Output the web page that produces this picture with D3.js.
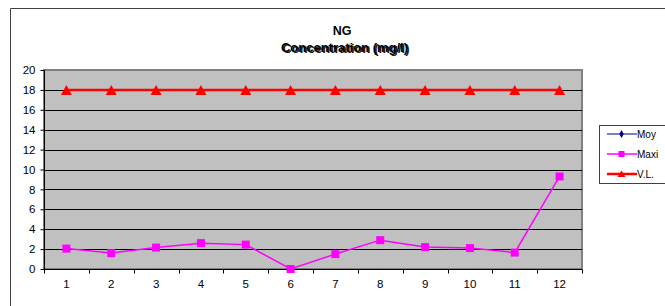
<!DOCTYPE html>
<html><head><meta charset="utf-8">
<script src="https://cdn.jsdelivr.net/npm/d3@7"></script>
<style>body{margin:0;background:#fff}svg{display:block}</style>
</head><body>
<script>
const categories = ["1","2","3","4","5","6","7","8","9","10","11","12"];
const moy = [null,null,null,null,null,null,null,null,null,null,null,null];
const maxi = [2.05, 1.6, 2.15, 2.6, 2.45, 0, 1.5, 2.9, 2.2, 2.1, 1.65, 9.3];
const vl = [18,18,18,18,18,18,18,18,18,18,18,18];
const yTicks = [0,2,4,6,8,10,12,14,16,18,20];
const seriesNames = ["Moy","Maxi","V.L."];

(function(){
const W = 665, H = 306;
const svg = d3.select("body").append("svg").attr("width", W).attr("height", H);
const font = "Liberation Sans, Arial, sans-serif";

// outer frame
svg.append("path").attr("d", `M10.5,${H+2} L10.5,8.5 L${W+2},8.5`).attr("fill","none").attr("stroke","#404040");

const pLeft = 44, pRight = 582, pTop = 70, pBottom = 269;
const x = d3.scaleBand().domain(categories).range([pLeft, pRight]);
const y = d3.scaleLinear().domain([0, 20]).range([pBottom, pTop]);

svg.append("rect").attr("x", pLeft).attr("y", pTop).attr("width", pRight-pLeft).attr("height", pBottom-pTop)
  .attr("fill", "#c0c0c0").attr("stroke", "#808080").attr("stroke-width", 2);

// gridlines
svg.append("g").selectAll("line").data(yTicks.filter(d => d > 0 && d < 20)).join("line")
  .attr("x1", pLeft).attr("x2", pRight)
  .attr("y1", d => Math.round(y(d)) + 0.5).attr("y2", d => Math.round(y(d)) + 0.5)
  .attr("stroke", "#000").attr("stroke-width", 1);

// y axis
const yAxis = svg.append("g").attr("transform", `translate(${pLeft + 0.5},0)`)
  .call(d3.axisLeft(y).tickValues(yTicks).tickSize(4).tickPadding(5));
yAxis.select(".domain").attr("stroke", "#000").attr("d", `M0,${pTop}V${pBottom}`);
yAxis.selectAll("text").attr("font-family", font).attr("font-size", 11.5).attr("fill", "#000");
yAxis.selectAll("line").attr("stroke", "#000");

// x axis
const xg = svg.append("g").attr("transform", `translate(0,${pBottom + 0.5})`);
xg.append("line").attr("x1", pLeft).attr("x2", pRight).attr("stroke", "#000");
const boundaries = categories.map((c) => x(c)).concat([pRight]);
xg.selectAll("line.t").data(boundaries).join("line").attr("class","t")
  .attr("x1", d => Math.round(d) + 0.5).attr("x2", d => Math.round(d) + 0.5)
  .attr("y1", 0).attr("y2", 4).attr("stroke", "#000");
xg.selectAll("text").data(categories).join("text")
  .attr("x", d => x(d) + x.bandwidth()/2).attr("y", 18)
  .attr("text-anchor", "middle").attr("font-family", font).attr("font-size", 11.5).text(d => d);

const cx = c => x(c) + x.bandwidth()/2;
const line = d3.line().defined(d => d[1] != null).x(d => cx(d[0])).y(d => y(d[1]));

// Moy
const moyData = categories.map((c,i) => [c, moy[i]]);
svg.append("path").attr("d", line(moyData)).attr("fill","none").attr("stroke","#000080").attr("stroke-width",1);

// Maxi
const maxiData = categories.map((c,i) => [c, maxi[i]]);
svg.append("path").attr("d", line(maxiData)).attr("fill","none").attr("stroke","#ff00ff").attr("stroke-width",1.5);
svg.append("g").selectAll("rect").data(maxiData).join("rect")
  .attr("x", d => cx(d[0]) - 4).attr("y", d => y(d[1]) - 4).attr("width", 8).attr("height", 8).attr("fill", "#ff00ff");

// V.L.
const vlData = categories.map((c,i) => [c, vl[i]]);
svg.append("path").attr("d", line(vlData)).attr("fill","none").attr("stroke","#ff0000").attr("stroke-width",2.5);
const triPath = "M0,-5L5.5,5L-5.5,5Z";
svg.append("g").selectAll("path").data(vlData).join("path")
  .attr("transform", d => `translate(${cx(d[0])},${y(d[1])})`).attr("d", triPath).attr("fill", "#ff0000");

// title
svg.append("text").attr("x", 342).attr("y", 35).attr("text-anchor","middle")
  .attr("font-family", font).attr("font-size", 12.5).attr("font-weight","bold").text("NG");
svg.append("text").attr("x", 346).attr("y", 53).attr("text-anchor","middle")
  .attr("font-family", font).attr("font-size", 13).attr("font-weight","bold").attr("fill","#222").text("Concentration (mg/l)");
svg.append("text").attr("x", 344.5).attr("y", 52).attr("text-anchor","middle")
  .attr("font-family", font).attr("font-size", 13).attr("font-weight","bold").text("Concentration (mg/l)");

// legend
const lg = svg.append("g");
lg.append("rect").attr("x", 599.5).attr("y", 125.5).attr("width", 66).attr("height", 58)
  .attr("fill", "#fff").attr("stroke", "#404040");
const legY = [134, 154, 174];
const legColors = ["#000080", "#ff00ff", "#ff0000"];
const legWidths = [1, 1.5, 2.5];
seriesNames.forEach((name, i) => {
  lg.append("line").attr("x1", 607).attr("x2", 637).attr("y1", legY[i]).attr("y2", legY[i])
    .attr("stroke", legColors[i]).attr("stroke-width", legWidths[i]);
  if (i === 0) {
    lg.append("path").attr("transform", `translate(621.5,${legY[i]})`)
      .attr("d", d3.symbol().type(d3.symbolDiamond).size(18)).attr("fill", legColors[i]);
  } else if (i === 1) {
    lg.append("rect").attr("x", 618.5).attr("y", legY[i]-3).attr("width", 6).attr("height", 6).attr("fill", legColors[i]);
  } else {
    lg.append("path").attr("transform", `translate(621.5,${legY[i]})`)
      .attr("d", "M0,-3.5L4,3L-4,3Z").attr("fill", legColors[i]);
  }
  lg.append("text").attr("x", 637).attr("y", legY[i] + 3.5).attr("font-family", font)
    .attr("font-size", 10).text(name);
});
})();
</script>
</body></html>
